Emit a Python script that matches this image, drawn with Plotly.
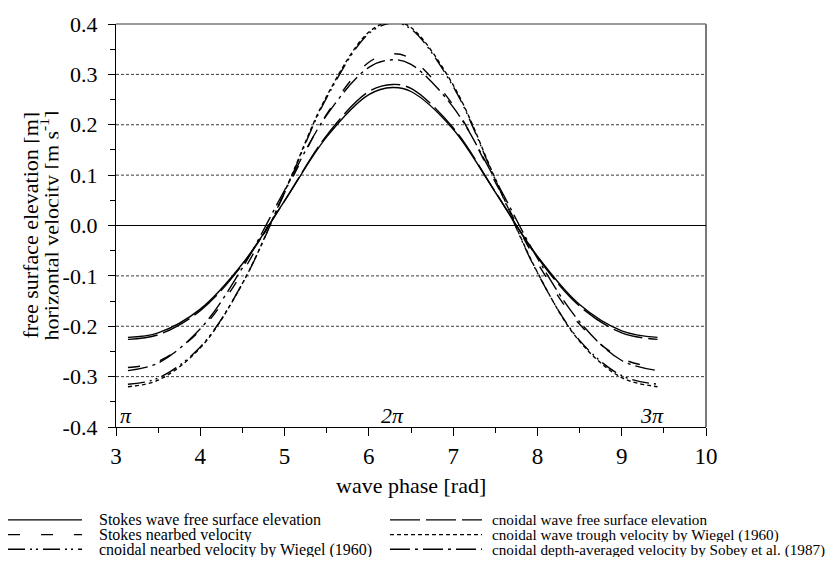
import plotly.graph_objects as go

# ---------------- data ----------------
phase = [3.1416, 3.5, 4.0, 4.5, 5.0, 5.5, 6.0, 6.2832, 6.5, 7.0, 7.5, 8.0, 8.5, 9.0, 9.4248]

stokes_eta = [-0.222, -0.213, -0.166, -0.076, 0.049, 0.176, 0.260, 0.274, 0.266, 0.191, 0.066, -0.061, -0.157, -0.209, -0.222]
cnoidal_eta = [-0.226, -0.217, -0.169, -0.078, 0.049, 0.179, 0.266, 0.280, 0.272, 0.194, 0.067, -0.063, -0.160, -0.213, -0.226]
stokes_u = [-0.282, -0.270, -0.208, -0.093, 0.064, 0.221, 0.324, 0.341, 0.331, 0.239, 0.086, -0.074, -0.196, -0.264, -0.282]
wiegel_trough_u = [-0.320, -0.307, -0.243, -0.115, 0.067, 0.257, 0.384, 0.405, 0.393, 0.279, 0.093, -0.093, -0.230, -0.302, -0.320]
wiegel_nearbed_u = [-0.315, -0.303, -0.241, -0.115, 0.065, 0.254, 0.381, 0.402, 0.390, 0.276, 0.091, -0.094, -0.228, -0.298, -0.315]
sobey_u = [-0.288, -0.273, -0.205, -0.084, 0.070, 0.219, 0.314, 0.329, 0.320, 0.235, 0.091, -0.065, -0.191, -0.268, -0.288]

series_names = [
    "Stokes wave free surface elevation",
    "cnoidal wave free surface elevation",
    "Stokes nearbed velocity",
    "cnoidal wave trough velocity by Wiegel (1960)",
    "cnoidal nearbed velocity by Wiegel (1960)",
    "cnoidal depth-averaged velocity by Sobey et al. (1987)",
]
series_values = [stokes_eta, cnoidal_eta, stokes_u, wiegel_trough_u, wiegel_nearbed_u, sobey_u]
series_dash = ["solid", "30px,6px", "12px,21px", "4px,3px", "17px,5px,2px,4px,2px,5px", "20px,5px,3px,5px"]

x_ticks = [3, 4, 5, 6, 7, 8, 9, 10]
y_ticks = [-0.4, -0.3, -0.2, -0.1, 0.0, 0.1, 0.2, 0.3, 0.4]
y_ticktext = [f"{v:.1f}" for v in y_ticks]
grid_levels = [-0.3, -0.2, -0.1, 0.1, 0.2, 0.3]

phase_labels = ["π", "2π", "3π"]
phase_label_x = [3.1416, 6.2832, 9.4248]
phase_label_shift = [-2, 0, -6]

x_title = "wave phase [rad]"
y_title_lines = ["free surface elevation [m]", "horizontal velocity [m s<sup>-1</sup>]"]

# ---------------- layout constants ----------------
W, H = 832, 564
ML, MR, MT, MB = 116, 126, 15, 137
PW, PH = W - ML - MR, H - MT - MB
FONT = "Liberation Serif"


def px_x(p):
    return (p - ML) / PW


def px_y(p):
    return (H - MB - p) / PH


fig = go.Figure()

for name, vals, dash in zip(series_names, series_values, series_dash):
    fig.add_trace(go.Scatter(
        x=phase, y=vals, mode="lines", name=name, showlegend=False,
        line=dict(color="black", width=1.4, dash=dash, shape="spline", smoothing=1.0),
    ))

shapes = []
for lv in grid_levels:
    shapes.append(dict(type="line", xref="paper", x0=0, x1=1, yref="y", y0=lv, y1=lv,
                       line=dict(color="#3a3a3a", width=1, dash="3px,2px"), layer="below"))
shapes.append(dict(type="line", xref="paper", yref="paper", x0=0, x1=1, y0=1, y1=1,
                   line=dict(color="#7a7a7a", width=1.5), layer="below"))
shapes.append(dict(type="line", xref="paper", yref="paper", x0=1, x1=1, y0=0, y1=1,
                   line=dict(color="#7a7a7a", width=2), layer="below"))

annotations = []
for lab, xv, sh in zip(phase_labels, phase_label_x, phase_label_shift):
    annotations.append(dict(x=xv, y=-0.4, xref="x", yref="y", text=f"<i>{lab}</i>", showarrow=False,
                            xanchor="center", yanchor="bottom", xshift=sh, yshift=-3,
                            font=dict(family=FONT, size=22, color="black")))

for txt, pxpos in zip(y_title_lines, [30, 49]):
    annotations.append(dict(x=px_x(pxpos), y=0.5, xref="paper", yref="paper", text=txt, showarrow=False,
                            textangle=-90, xanchor="center", yanchor="middle", height=18,
                            font=dict(family=FONT, size=22, color="black")))

annotations.append(dict(x=0.5, y=px_y(487), xref="paper", yref="paper", text=x_title, showarrow=False,
                        xanchor="center", yanchor="middle", font=dict(family=FONT, size=22, color="black")))

# manual legend: (sample start, sample end, text start, font size) per column
col_layout = [(8, 82, 97, 16), (390, 482, 490, 15.2)]
row_y = [522, 537, 552]
legend_order = [(0, 0, 0), (2, 0, 1), (4, 0, 2), (1, 1, 0), (3, 1, 1), (5, 1, 2)]
for idx, col, row in legend_order:
    x0, x1, xt, fs = col_layout[col]
    yy = px_y(row_y[row])
    shapes.append(dict(type="line", xref="paper", yref="paper", x0=px_x(x0), x1=px_x(x1), y0=yy, y1=yy,
                       line=dict(color="black", width=1.4, dash=series_dash[idx])))
    annotations.append(dict(x=px_x(xt), y=yy, xref="paper", yref="paper", text=series_names[idx],
                            showarrow=False, xanchor="left", yanchor="middle", height=15,
                            font=dict(family=FONT, size=fs, color="black")))

fig.update_layout(
    width=W, height=H,
    margin=dict(l=ML, r=MR, t=MT, b=MB, pad=0),
    paper_bgcolor="white", plot_bgcolor="white",
    font=dict(family=FONT, color="black"),
    showlegend=False,
    hovermode=False,
    shapes=shapes,
    annotations=annotations,
    xaxis=dict(
        range=[3, 10], tickmode="array", tickvals=x_ticks, ticks="outside", ticklen=8, tickwidth=1,
        tickcolor="black", showline=True, linecolor="black", linewidth=1.2, showgrid=False,
        zeroline=False, tickfont=dict(family=FONT, size=23, color="black"),
        minor=dict(ticks="outside", ticklen=5, tickwidth=1, tickcolor="black", dtick=0.5, tick0=3, showgrid=False),
    ),
    yaxis=dict(
        range=[-0.4, 0.4], tickmode="array", tickvals=y_ticks, ticktext=y_ticktext, ticks="outside",
        ticklen=7, tickwidth=1, tickcolor="black", showline=True, linecolor="black", linewidth=1.2,
        showgrid=False, zeroline=True, zerolinecolor="black", zerolinewidth=1.3,
        tickfont=dict(family=FONT, size=22, color="black"), ticklabelstandoff=6,
        minor=dict(ticks="outside", ticklen=5, tickwidth=1, tickcolor="black", dtick=0.05, tick0=0, showgrid=False),
    ),
)

# remove the browser's default 8px body margin so the figure sits at the page origin
fig.write_html(
    "out.html",
    config={"displayModeBar": False, "staticPlot": True},
    post_script="document.body.style.margin='0';document.body.style.overflow='hidden';",
)
